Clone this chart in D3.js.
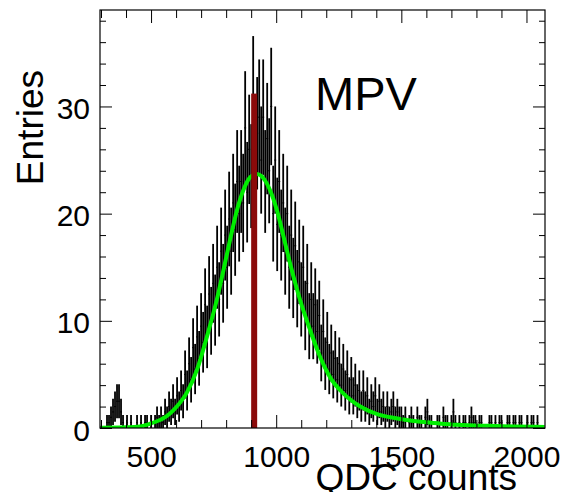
<!DOCTYPE html>
<html>
<head>
<meta charset="utf-8">
<script src="https://cdn.jsdelivr.net/npm/d3@7"></script>
<style>
  body { margin: 0; background: #fff; }
  text { font-family: "Liberation Sans", Arial, sans-serif; }
</style>
</head>
<body>
<div id="chart-area"></div>
<script>
// histogram: bins of 8 QDC counts starting at 296
var binStart = 296;
var binWidth = 8;
var scaleFactor = 0.5;   // entries per raw count
var counts = [
  0,0,0,1,1,2,3,4,5,5,
  3,1,0,1,0,1,0,0,1,0,
  1,0,1,1,0,1,0,1,2,1,
  2,1,3,2,4,3,5,3,6,4,
  7,5,10,7,12,9,15,11,17,13,
  19,16,23,17,25,20,27,22,30,24,
  33,27,36,30,39,33,42,37,46,40,
  46,42,56,44,52,47,62,50,55,58,
  50,58,46,54,48,60,40,50,38,46,
  36,42,33,40,30,36,28,34,26,31,
  24,30,21,27,19,24,19,23,18,21,
  14,18,12,16,11,14,10,13,9,12,
  8,11,7,10,6,9,6,8,5,7,
  4,7,4,6,3,5,4,6,3,5,
  3,4,2,4,2,3,4,2,3,2,
  2,1,2,0,1,2,1,0,2,1,
  1,0,2,3,1,1,0,0,1,1,
  0,2,1,1,0,1,3,1,0,1,
  0,1,1,0,1,2,1,1,0,1,
  1,0,0,0,1,1,0,1,0,1,
  1,0,0,1,1,0,1,1,0,1,
  1,0,0,1,0,1,1,0,1,0,
  0,0
];

// fit curve [QDC, entries]
var fitX = [296,400,456,496,536,549,603,643,683,723,763,789,816,843,869,896,923,963,1003,1029,1056,1096,1136,1176,1216,1269,1336,1409,1456,1520,1588,1650,1724,1850,1950,2073];
var fitY = [0.02,0.06,0.15,0.4,0.75,0.9,2.0,3.3,5.4,8.5,12.0,14.7,17.6,20.3,22.2,23.4,23.7,22.8,20.3,17.9,15.3,11.9,9.1,6.6,4.7,3.2,2.0,1.25,1.0,0.75,0.56,0.43,0.3,0.2,0.14,0.1];

var mpv = 912;
var mpvHeight = 31.2;

var xMajor = [500, 1000, 1500, 2000];
var xMinor = [300,400,600,700,800,900,1100,1200,1300,1400,1600,1700,1800,1900];
var yMajor = [0, 10, 20, 30];
var yMinor = [2,4,6,8,12,14,16,18,22,24,26,28,32,34,36,38];

var W = 563, H = 492;
var pLeft = 100, pRight = 545, pTop = 10, pBottom = 428;

var svg = d3.select("#chart-area").append("svg")
    .attr("width", W)
    .attr("height", H);

var x = d3.scaleLinear().domain([296, 2074]).range([pLeft, pRight]);
var y = d3.scaleLinear().domain([0, 39]).range([pBottom, pTop]);

var bins = counts.map(function(c, i) {
    var v = c * scaleFactor;
    return {
        x0: binStart + i * binWidth,
        x1: binStart + (i + 1) * binWidth,
        v: v,
        e: Math.sqrt(v)
    };
}).filter(function(d) { return d.v > 0; });

svg.append("clipPath").attr("id", "frame")
  .append("rect")
    .attr("x", pLeft).attr("y", pTop)
    .attr("width", pRight - pLeft).attr("height", pBottom - pTop);

var plot = svg.append("g").attr("clip-path", "url(#frame)");

// error bars
plot.selectAll("line.ev")
    .data(bins)
    .enter()
    .append("line")
    .attr("class", "ev")
    .attr("x1", function(d) { return x((d.x0 + d.x1) / 2); })
    .attr("x2", function(d) { return x((d.x0 + d.x1) / 2); })
    .attr("y1", function(d) { return y(Math.max(0, d.v - d.e)); })
    .attr("y2", function(d) { return y(d.v + d.e); })
    .attr("stroke", "black")
    .attr("stroke-width", 1.8);

plot.selectAll("line.eh")
    .data(bins)
    .enter()
    .append("line")
    .attr("class", "eh")
    .attr("x1", function(d) { return x(d.x0); })
    .attr("x2", function(d) { return x(d.x1); })
    .attr("y1", function(d) { return y(d.v); })
    .attr("y2", function(d) { return y(d.v); })
    .attr("stroke", "black")
    .attr("stroke-width", 1);

// fit
var line = d3.line()
    .x(function(d) { return x(d[0]); })
    .y(function(d) { return y(d[1]); })
    .curve(d3.curveMonotoneX);

plot.append("path")
    .datum(d3.zip(fitX, fitY))
    .attr("d", line)
    .attr("fill", "none")
    .attr("stroke", "#00ee00")
    .attr("stroke-width", 4);

// MPV marker
plot.append("rect")
    .attr("x", x(mpv) - 3)
    .attr("y", y(mpvHeight))
    .attr("width", 6)
    .attr("height", y(0) - y(mpvHeight))
    .attr("fill", "#8b0a0a");

// axes with inside ticks
function styleAxis(g) {
    g.select(".domain").remove();
    g.selectAll("line").attr("stroke", "black");
    g.selectAll("text").attr("font-size", "30px").attr("fill", "black")
        .attr("font-family", "Liberation Sans, Arial, sans-serif");
}

svg.append("g").attr("transform", "translate(0," + pBottom + ")")
    .call(d3.axisBottom(x).tickValues(xMinor).tickSize(-8).tickFormat(""))
    .call(styleAxis);
svg.append("g").attr("transform", "translate(0," + pBottom + ")")
    .call(d3.axisBottom(x).tickValues(xMajor).tickSize(-13).tickPadding(18).tickFormat(d3.format("d")))
    .call(styleAxis);
svg.append("g").attr("transform", "translate(0," + pTop + ")")
    .call(d3.axisTop(x).tickValues(xMinor).tickSize(-8).tickFormat(""))
    .call(styleAxis);
svg.append("g").attr("transform", "translate(0," + pTop + ")")
    .call(d3.axisTop(x).tickValues(xMajor).tickSize(-13).tickFormat(""))
    .call(styleAxis);

svg.append("g").attr("transform", "translate(" + pLeft + ",0)")
    .call(d3.axisLeft(y).tickValues(yMinor).tickSize(-6).tickFormat(""))
    .call(styleAxis);
var yAx = svg.append("g").attr("transform", "translate(" + pLeft + ",0)")
    .call(d3.axisLeft(y).tickValues(yMajor).tickSize(-12).tickPadding(10).tickFormat(d3.format("d")))
    .call(styleAxis);
yAx.selectAll("text").attr("dy", "0.4em");
svg.append("g").attr("transform", "translate(" + pRight + ",0)")
    .call(d3.axisRight(y).tickValues(yMinor).tickSize(-6).tickFormat(""))
    .call(styleAxis);
svg.append("g").attr("transform", "translate(" + pRight + ",0)")
    .call(d3.axisRight(y).tickValues(yMajor).tickSize(-12).tickFormat(""))
    .call(styleAxis);

// frame
svg.append("rect")
    .attr("x", pLeft).attr("y", pTop)
    .attr("width", pRight - pLeft).attr("height", pBottom - pTop)
    .attr("fill", "none")
    .attr("stroke", "black")
    .attr("stroke-width", 1.2);

// titles
svg.append("text")
    .attr("x", 517).attr("y", 490)
    .attr("text-anchor", "end")
    .attr("font-size", "37px")
    .text("QDC counts");

svg.append("text")
    .attr("transform", "translate(43,70) rotate(-90)")
    .attr("text-anchor", "end")
    .attr("font-size", "37px")
    .text("Entries");

svg.append("text")
    .attr("x", 315).attr("y", 110)
    .attr("font-size", "47px")
    .text("MPV");
</script>
</body>
</html>
